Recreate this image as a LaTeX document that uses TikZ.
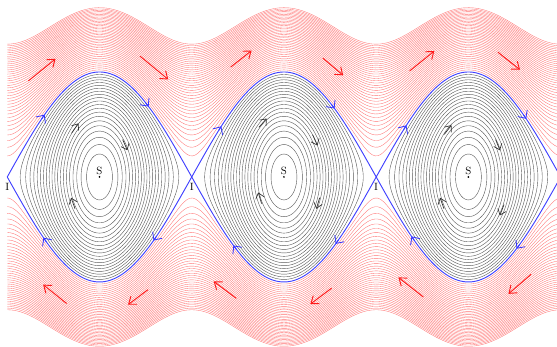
\documentclass[tikz,border=0pt]{standalone}
\usepackage{tikz}
\usetikzlibrary{arrows.meta,positioning,calc}
\tikzset{
  pont/.style={circle,fill,inner sep=0.6pt},
  zart/.style={black!65,line width=0.35pt},
  forgo/.style={red!55,line width=0.3pt},
  szep/.style={blue!75,line width=0.8pt},
  pnyil/.style={red!90,line width=0.8pt,-{Straight Barb[length=2mm,width=3mm]}},
  fnyil/.style={black!80,line width=0.6pt,-{Straight Barb[length=1.6mm,width=2.6mm]}},
  knyil/.style={blue!80,line width=0.7pt,-{Straight Barb[length=1.8mm,width=3.4mm]}},
}
% iranyitott nyil a fazisfolyam menten: (theta, v, hossz)
\newcommand\aram[4][]{%
  \draw[#1] ($({#2},{#3})!-#4/2!({#2+0.1*(#3)},{#3-0.1*sin((#2) r)})$)
    -- ($({#2},{#3})!#4/2!({#2+0.1*(#3)},{#3-0.1*sin((#2) r)})$);}

\begin{document}
\begin{tikzpicture}[x=0.8808cm,y=1.575cm]
  \useasboundingbox (-3.389,-3.238) rectangle (15.583,3.371);
  \clip (-3.389,-3.238) rectangle (15.583,3.371);
  \foreach \k in {1,...,40}{
    \pgfmathsetmacro\E{1+0.08*\k}
    \draw[forgo] plot[domain=-pi:15.6,samples=200,smooth] (\x,{sqrt(2*(\E+cos(\x r)))});
    \draw[forgo] plot[domain=-pi:15.6,samples=200,smooth] (\x,{-sqrt(2*(\E+cos(\x r)))});
  }
  \foreach \n in {0,1,2}{
    \pgfmathsetmacro\d{2*pi*\n}
    \foreach \k in {1,...,20}{
      \pgfmathsetmacro\m{sqrt(\k/21)}
      \draw[zart] plot[domain=0:360,samples=121,smooth]
        ({\d+2*asin(\m*sin(\x))*pi/180},{2*\m*cos(\x)});
    }
    \draw[szep] plot[domain=-pi:pi,samples=80,smooth] ({\d+\x},{2*cos(0.5*\x r)});
    \draw[szep] plot[domain=-pi:pi,samples=80,smooth] ({\d+\x},{-2*cos(0.5*\x r)});
    \node[pont] (s\n) at (\d,0) {};
    \node[above=1pt of s\n,inner sep=0pt,font=\small] {S};
    \node[inner sep=0pt,font=\small] (i\n) at ({\d-pi},-0.19) {I};
  }
  % piros nyilak
  \aram[pnyil]{-1.96}{2.04}{1.05cm}
  \aram[pnyil]{1.86}{2.08}{1.1cm}
  \aram[pnyil]{2*pi-1.46}{2.25}{0.8cm}
  \aram[pnyil]{2*pi+1.67}{2.10}{0.8cm}
  \aram[pnyil]{4*pi-1.58}{2.21}{0.95cm}
  \aram[pnyil]{4*pi+1.38}{2.21}{0.85cm}
  \aram[pnyil]{-1.52}{-2.23}{0.9cm}
  \aram[pnyil]{1.31}{-2.29}{0.75cm}
  \aram[pnyil]{2*pi-2.01}{-2.15}{0.85cm}
  \aram[pnyil]{2*pi+1.26}{-2.27}{0.8cm}
  \aram[pnyil]{4*pi-1.96}{-2.10}{0.95cm}
  \aram[pnyil]{4*pi+1.75}{-2.04}{0.9cm}
  % kek nyilak a szeparatrixon
  \aram[knyil]{-1.92}{2*cos(-0.96 r)}{0.15cm}
  \aram[knyil]{1.62}{2*cos(0.81 r)}{0.15cm}
  \aram[knyil]{-1.86}{-2*cos(-0.93 r)}{0.15cm}
  \aram[knyil]{1.89}{-2*cos(0.945 r)}{0.15cm}
  \aram[knyil]{2*pi-2.18}{2*cos(-1.09 r)}{0.15cm}
  \aram[knyil]{2*pi+1.67}{2*cos(0.835 r)}{0.15cm}
  \aram[knyil]{2*pi-1.67}{-2*cos(-0.835 r)}{0.15cm}
  \aram[knyil]{2*pi+1.81}{-2*cos(0.905 r)}{0.15cm}
  \aram[knyil]{4*pi-2.16}{2*cos(-1.08 r)}{0.15cm}
  \aram[knyil]{4*pi+1.92}{2*cos(0.96 r)}{0.15cm}
  \aram[knyil]{4*pi-1.89}{-2*cos(-0.945 r)}{0.15cm}
  \aram[knyil]{4*pi+1.69}{-2*cos(0.845 r)}{0.15cm}
  % fekete nyilak
  \aram[fnyil]{-0.83}{0.93}{0.35cm}
  \aram[fnyil]{0.87}{0.61}{0.35cm}
  \aram[fnyil]{-0.90}{-0.50}{0.35cm}
  \aram[fnyil]{2*pi-0.72}{1.03}{0.35cm}
  \aram[fnyil]{2*pi+1.06}{0.70}{0.35cm}
  \aram[fnyil]{2*pi-0.82}{-0.40}{0.35cm}
  \aram[fnyil]{2*pi+1.16}{-0.50}{0.35cm}
  \aram[fnyil]{4*pi-0.70}{0.90}{0.35cm}
  \aram[fnyil]{4*pi+1.0}{0.61}{0.35cm}
  \aram[fnyil]{4*pi-0.90}{-0.50}{0.35cm}
  \aram[fnyil]{4*pi+1.14}{-0.63}{0.35cm}
\end{tikzpicture}
\end{document}
